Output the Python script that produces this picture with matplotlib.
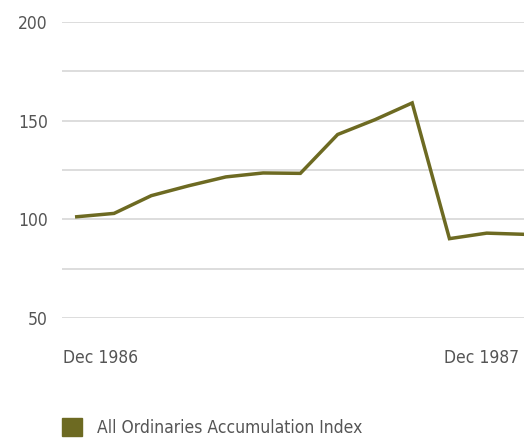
import matplotlib
matplotlib.use("Agg")
import matplotlib.pyplot as plt
from matplotlib.patches import Rectangle
from matplotlib.ticker import MultipleLocator

plt.rcParams['font.family'] = ['DejaVu Sans']
plt.rcParams['font.stretch'] = 'condensed'

# monthly index values, Dec 1986 .. Dec 1987
months = ["Dec 1986", "Jan", "Feb", "Mar", "Apr", "May", "Jun",
          "Jul", "Aug", "Sep", "Oct", "Nov", "Dec 1987"]
index_values = [101.3, 103.0, 112.0, 117.0, 121.5, 123.5, 123.3,
                143.0, 150.5, 159.0, 90.2, 93.0, 92.4]
series_name = "All Ordinaries Accumulation Index"
end_labels = ["Dec 1986", "Dec 1987"]

OLIVE = "#6d6a22"
GRID = "#d3d3d3"
TEXT = "#555555"

fig = plt.figure(figsize=(5.24, 4.41), dpi=100)
ax = fig.add_axes([0.118, 0.279, 0.882, 0.671])

x = range(len(months))
ax.plot(x, index_values, color=OLIVE, lw=2.5, solid_joinstyle="miter",
        clip_on=False, zorder=3)

ax.set_xlim(-0.4, len(months) - 1)
ax.set_ylim(50, 200)
ax.yaxis.set_major_locator(MultipleLocator(50))
ax.yaxis.set_minor_locator(MultipleLocator(25))
ax.grid(True, axis="y", which="both", color=GRID, lw=1.1)
ax.set_xticks([])
ax.tick_params(axis="y", which="both", length=0, pad=10,
               labelsize=12.5, labelcolor=TEXT)
for s in ax.spines.values():
    s.set_visible(False)

# end-of-period labels under the axis
ax.text(0.003, -0.135, end_labels[0], transform=ax.transAxes,
        ha="left", va="center", fontsize=12.5, color=TEXT)
ax.text(0.99, -0.135, end_labels[1], transform=ax.transAxes,
        ha="right", va="center", fontsize=12.5, color=TEXT)

# legend swatch
fig.patches.append(Rectangle((62 / 524, 1 - 436 / 441), 20 / 524, 18 / 441,
                             transform=fig.transFigure, color=OLIVE))
fig.text(97 / 524, 1 - 428 / 441, series_name, ha="left", va="center",
         fontsize=12.5, color=TEXT)

fig.savefig("out.png", dpi=100, facecolor="white")
